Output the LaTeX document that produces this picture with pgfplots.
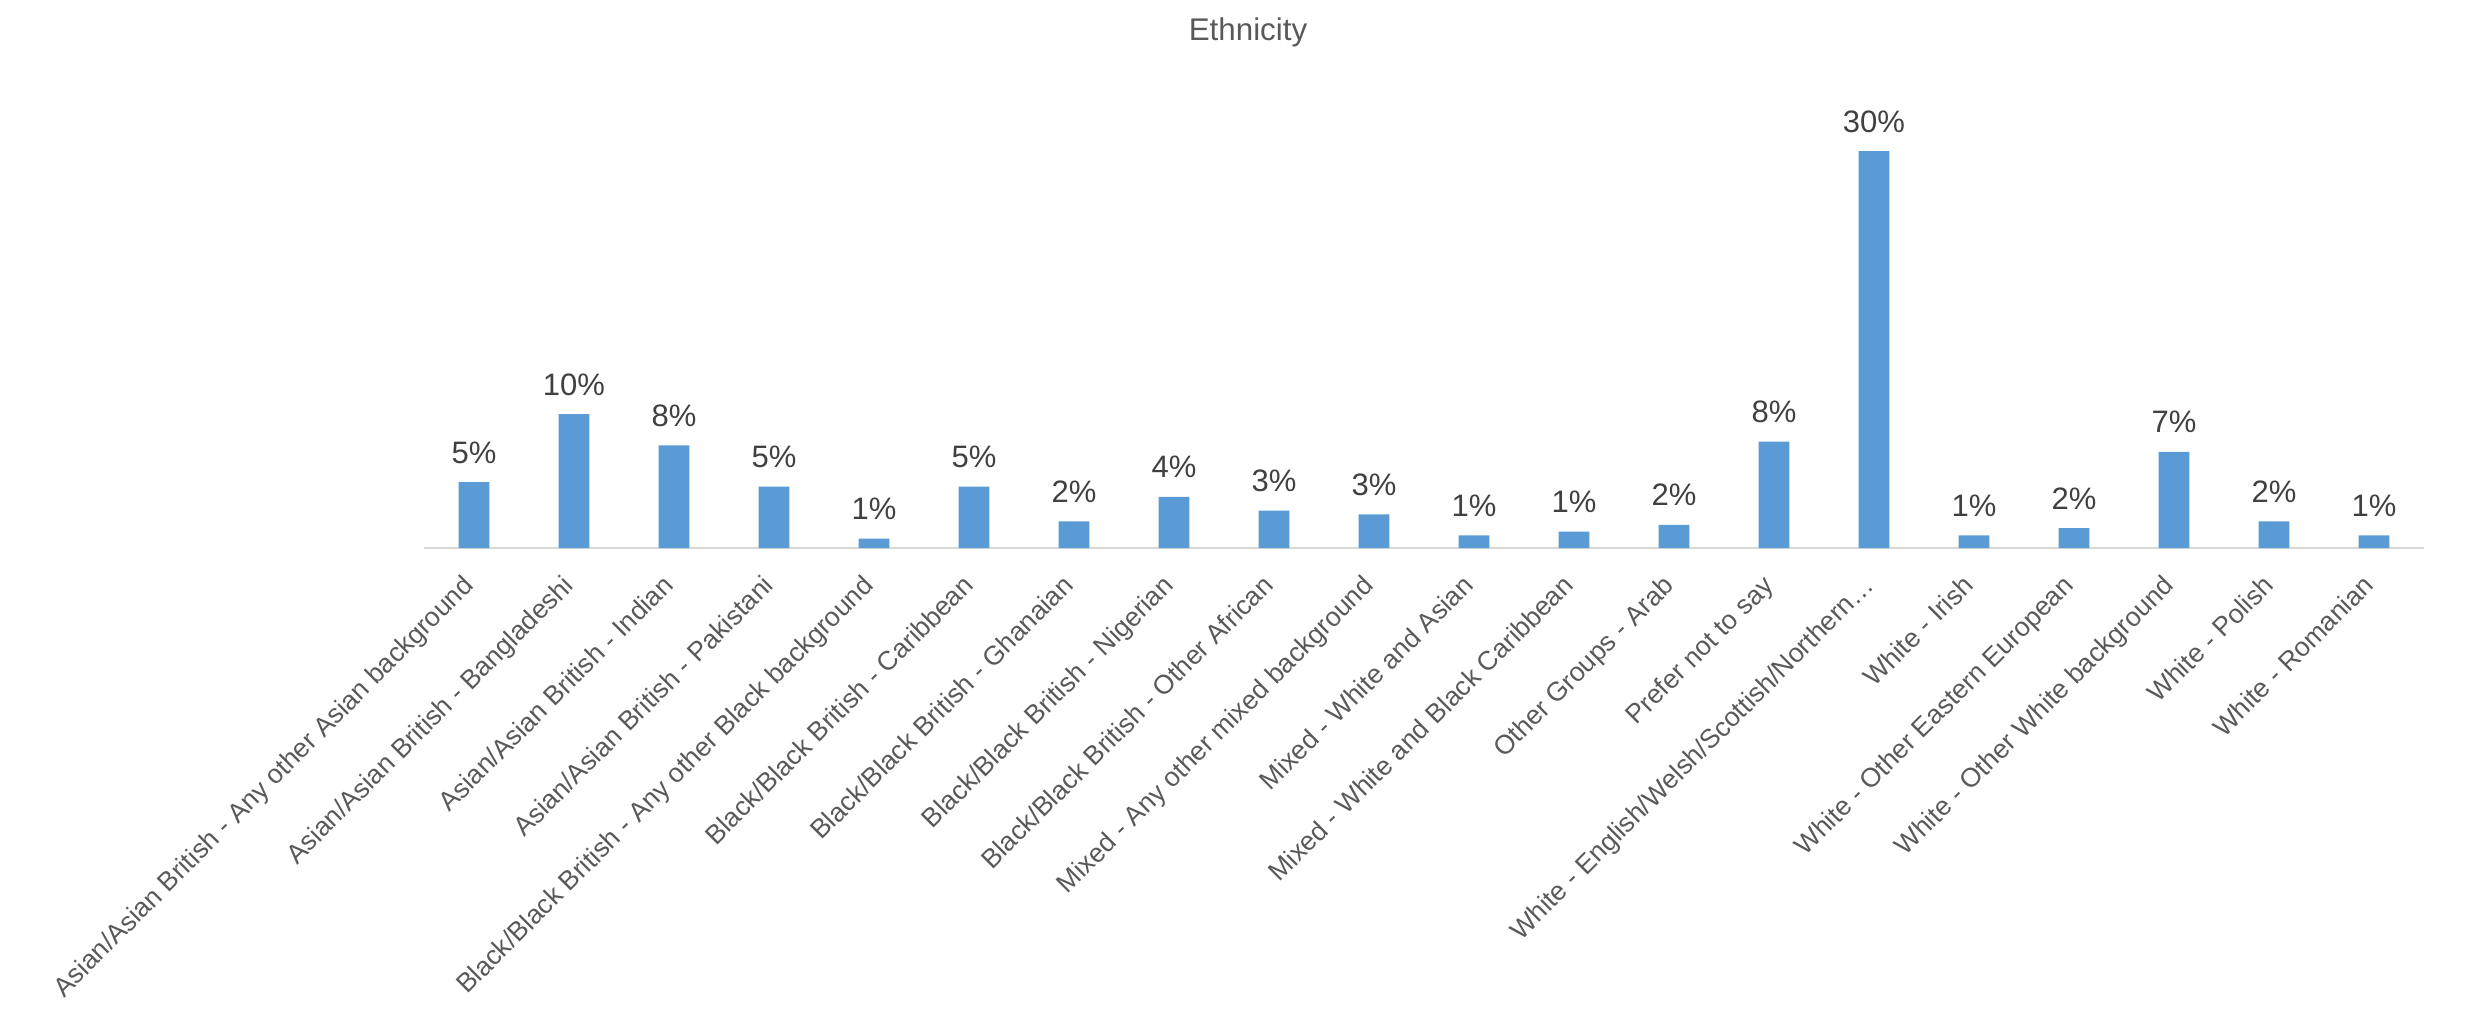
\documentclass[border=0pt]{standalone}
\usepackage{fontspec}
\setmainfont{Liberation Sans}
\usepackage{pgfplots}
\pgfplotsset{compat=1.18}
\definecolor{barblue}{HTML}{5B9BD5}
\definecolor{axgrey}{HTML}{D9D9D9}
\definecolor{txtgrey}{HTML}{595959}
\definecolor{lblgrey}{HTML}{404040}
\begin{document}
\begin{tikzpicture}
\path[use as bounding box] (-127.2pt,-138.3pt) rectangle (617.7pt,164.4pt);
\begin{axis}[
  at={(0,0)}, anchor=south west,
  scale only axis, width=600pt, height=119.1pt,
  ymin=0, ymax=30, xmin=-0.5, xmax=19.5,
  clip=false,
  ybar, bar width=9.2pt,
  axis y line=none,
  axis x line*=bottom,
  x axis line style={axgrey, line width=0.6pt},
  xtick=data,
  xticklabels={
    Asian/Asian British - Any other Asian background,
    Asian/Asian British - Bangladeshi,
    Asian/Asian British - Indian,
    Asian/Asian British - Pakistani,
    Black/Black British - Any other Black background,
    Black/Black British - Caribbean,
    Black/Black British - Ghanaian,
    Black/Black British - Nigerian,
    Black/Black British - Other African,
    Mixed - Any other mixed background,
    Mixed - White and Asian,
    Mixed - White and Black Caribbean,
    Other Groups - Arab,
    Prefer not to say,
    White - English/Welsh/Scottish/Northern…,
    White - Irish,
    White - Other Eastern European,
    White - Other White background,
    White - Polish,
    White - Romanian},
  xtick style={draw=none},
  major tick length=0pt,
  xticklabel style={xshift=-3.8pt, rotate=45, anchor=north east, inner sep=0pt, font=\fontsize{8}{9.5}\selectfont, text=txtgrey},
  xticklabel shift=7.4pt,
  nodes near coords={\pgfmathprintnumber[fixed,precision=0,assume math mode=true]{\pgfplotspointmeta}\%},
  nodes near coords style={anchor=base, inner sep=0pt, yshift=5.7pt, font=\fontsize{9.3}{11}\selectfont, text=lblgrey},
  title={Ethnicity},
  every axis title shift=0pt,
  title style={at={(0.412,1)}, anchor=center, yshift=35.7pt, font=\fontsize{9.4}{11}\selectfont, text=txtgrey, inner sep=0pt},
]
\addplot[fill=barblue, draw=none] coordinates {
  (0,4.97) (1,10.11) (2,7.76) (3,4.64) (4,0.71)
  (5,4.64) (6,2.02) (7,3.86) (8,2.82) (9,2.55)
  (10,0.96) (11,1.24) (12,1.74) (13,8.04) (14,30.0)
  (15,0.96) (16,1.51) (17,7.26) (18,2.02) (19,0.96)
};
\end{axis}
\end{tikzpicture}
\end{document}
